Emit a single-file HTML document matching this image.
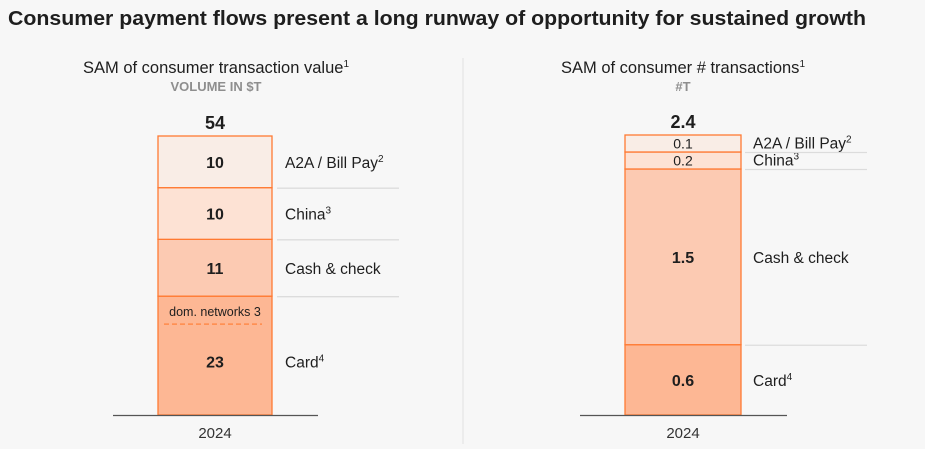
<!DOCTYPE html>
<html><head><meta charset="utf-8">
<style>
html,body{margin:0;padding:0;background:#f7f7f7;}
body{width:925px;height:444px;overflow:hidden;font-family:"Liberation Sans",sans-serif;}
svg text{font-family:"Liberation Sans",sans-serif;}
</style></head>
<body>
<svg id="chart" width="925" height="444" xmlns="http://www.w3.org/2000/svg">
<text x="8" y="25" font-size="20.5" font-weight="bold" fill="#1e1e1e" textLength="858" lengthAdjust="spacingAndGlyphs">Consumer payment flows present a long runway of opportunity for sustained growth</text>
<line x1="463" y1="58" x2="463" y2="444" stroke="#e2e2e2" stroke-width="1"/>
</svg>
<script>
const categories = ["Card", "Cash & check", "China", "A2A / Bill Pay"];
const supers = ["4", "", "3", "2"];
const valueSeries = [23, 11, 10, 10];
const valueTotal = "54";
const countSeries = [0.6, 1.5, 0.2, 0.1];
const countTotal = "2.4";
const domNetworks = 3;
const year = "2024";

const colors = ["#fdb794", "#fccab2", "#fde2d4", "#f9ede6"];
const svg = document.getElementById('chart');
const NS = "http://www.w3.org/2000/svg";
function mk(tag, attrs, txt){const e=document.createElementNS(NS,tag);for(const k in attrs)e.setAttribute(k,attrs[k]);if(txt!==undefined)e.textContent=txt;svg.appendChild(e);return e;}

function panel(cfg){
  const vals=cfg.values, total=vals.reduce((a,b)=>a+b,0);
  const H=cfg.bottom-cfg.top;
  const minH=17;
  let fixed=0, freeSum=0;
  const isSmall=vals.map(v=>v/total<0.1);
  vals.forEach((v,i)=>{if(isSmall[i])fixed+=minH;else freeSum+=v;});
  const heights=vals.map((v,i)=>isSmall[i]?minH:v/freeSum*(H-fixed));
  let t=mk('text',{x:cfg.cx,y:73,'font-size':16.5,'text-anchor':'middle',fill:'#1e1e1e'},cfg.title);
  
  
  const sup=document.createElementNS(NS,'tspan');sup.setAttribute('dy','-6');sup.setAttribute('font-size','10');sup.textContent='1';t.appendChild(sup);
  t=mk('text',{x:cfg.cx,y:91,'font-size':13,'font-weight':'bold','text-anchor':'middle',fill:'#8e8e8e'},cfg.sub);
  
  
  t=mk('text',{x:cfg.bx+cfg.bw/2,y:cfg.top-7,'font-size':18,'font-weight':'bold','text-anchor':'middle',fill:'#1e1e1e'},cfg.total);
  
  
  let y=cfg.bottom;
  vals.forEach((v,i)=>{
    const h=heights[i]; y-=h;
    const r=mk('rect',{x:cfg.bx,y:y,width:cfg.bw,height:h,fill:colors[i],stroke:'#ff7a33','stroke-width':1.3});
    
    
    const small=h<25;
    let ly=(i===0&&cfg.dom)? y+h*0.55+6 : (small? y+h/2+5 : y+h/2+6);
    const lt=mk('text',{x:cfg.bx+cfg.bw/2,y:ly,'font-size':small?14:16,'font-weight':small?'normal':'bold','text-anchor':'middle',fill:'#1e1e1e'},String(v));
    
    
    const ct=mk('text',{x:cfg.lx,y:ly,'font-size':15.5,fill:'#1e1e1e'},categories[i]);
    
    
    if(supers[i]){const s=document.createElementNS(NS,'tspan');s.setAttribute('dy','-6');s.setAttribute('font-size','10');s.textContent=supers[i];ct.appendChild(s);}
    if(i>0){const sl=mk('line',{x1:cfg.lx-8,x2:cfg.lx+114,y1:y+h+0.5,y2:y+h+0.5,stroke:'#dcdcdc','stroke-width':1.3});
      
      }
    if(i===0&&cfg.dom){
      const dt=mk('text',{x:cfg.bx+cfg.bw/2,y:y+20,'font-size':12.5,'text-anchor':'middle',fill:'#1e1e1e'},'dom. networks '+domNetworks);
      
      
      const dl=mk('line',{x1:cfg.bx+6,x2:cfg.bx+cfg.bw-10,y1:y+28,y2:y+28,stroke:'#ff8a4a','stroke-width':1.5,'stroke-dasharray':'5,3'});
      
      
    }
  });
  const bl=mk('line',{x1:cfg.bx-45,x2:cfg.bx+cfg.bw+46,y1:cfg.bottom+0.5,y2:cfg.bottom+0.5,stroke:'#555','stroke-width':1.3});
  
  
  const yt=mk('text',{x:cfg.bx+cfg.bw/2,y:438,'font-size':15,'text-anchor':'middle',fill:'#333'},year);
  
  
}
panel({id:'value',values:valueSeries,total:valueTotal,title:'SAM of consumer transaction value',sub:'VOLUME IN $T',cx:216,bx:158,bw:114,top:136,bottom:415,lx:285,dom:true});
panel({id:'count',values:countSeries,total:countTotal,title:'SAM of consumer # transactions',sub:'#T',cx:683,bx:625,bw:116,top:135,bottom:415,lx:753,dom:false});
</script>
</body></html>
